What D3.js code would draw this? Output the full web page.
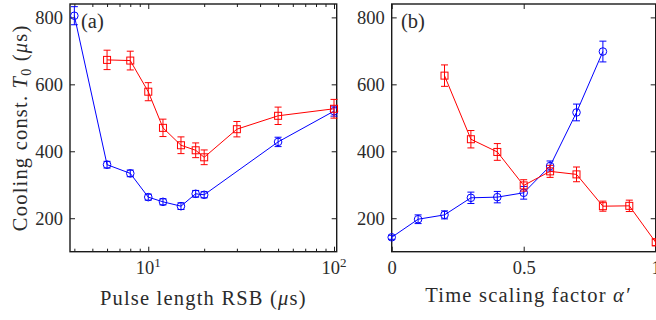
<!DOCTYPE html>
<html>
<head>
<meta charset="utf-8">
<script src="https://cdn.jsdelivr.net/npm/d3@7"></script>
<style>
  body { margin: 0; background: #fff; }
  svg { display: block; }
  .tick text { font-family: "Liberation Serif", "Times New Roman", "DejaVu Serif", serif; font-size: 18.5px; fill: #2b2b2b; }
  .domain { display: none; }
  .tick line { stroke: #1a1a1a; stroke-width: 1; }
  .lbl { font-family: "Liberation Serif", "Times New Roman", "DejaVu Serif", serif; font-size: 20.5px; fill: #2b2b2b; letter-spacing: 1.2px; }
</style>
</head>
<body>
<svg id="chart" width="656" height="320"></svg>
<script>
// panel (a): cooling constant vs pulse length RSB (log x)
const pulseBlue = [4, 6, 8, 10, 12, 15, 18, 20, 50, 100];
const coolBlue = [805, 360, 334, 263, 249, 236, 273, 270, 428, 520];
const errBlue = [27, 10, 10, 9, 9, 10, 10, 9, 14, 15];

const pulseRed = [6, 8, 10, 12, 15, 18, 20, 30, 50, 100];
const coolRed = [673, 671, 578, 470, 418, 403, 382, 466, 506, 527];
const errRed = [29, 28, 27, 26, 25, 22, 22, 23, 26, 28];

// panel (b): cooling constant vs time scaling factor
const alphaBlue = [0, 0.1, 0.2, 0.3, 0.4, 0.5, 0.6, 0.7, 0.8];
const coolBlueB = [143, 197, 210, 261, 263, 276, 356, 516, 698];
const errBlueB = [6, 13, 12, 17, 17, 19, 15, 25, 31];

const alphaRed = [0.2, 0.3, 0.4, 0.5, 0.6, 0.7, 0.8, 0.9, 1.0];
const coolRedB = [626, 436, 398, 298, 340, 331, 236, 237, 128];
const errRedB = [32, 26, 25, 17, 18, 22, 15, 17, 10];

const yTicks = [200, 400, 600, 800];
const logMajor = [10, 100];
const alphaTicks = [0, 0.5, 1];

const BLUE = '#0000ff', RED = '#ff0000';
const yTop = 4, yBottom = 251.7;
const svg = d3.select('#chart');

const y = d3.scaleLinear().domain([100, 840]).range([yBottom, yTop]);

const xa = d3.scaleLog().domain([3.79, 103.4]).range([70, 336.7]);
const xb = d3.scaleLinear().domain([0, 1]).range([391.7, 655.7]);

function frame(x, majors, minors, fmt) {
    const [x0, x1] = x.range();
    const g = svg.append('g');

    // ticks on all four sides, pointing in
    g.append('g').attr('transform', `translate(${x0},0)`)
        .call(d3.axisLeft(y).tickValues(yTicks).tickSize(-5).tickPadding(7));
    g.append('g').attr('transform', `translate(${x1},0)`)
        .call(d3.axisRight(y).tickValues(yTicks).tickSize(-5).tickFormat(''));
    g.append('g').attr('transform', `translate(0,${yBottom})`)
        .call(d3.axisBottom(x).tickValues(majors).tickSize(-5).tickPadding(9).tickFormat(fmt));
    g.append('g').attr('transform', `translate(0,${yTop})`)
        .call(d3.axisTop(x).tickValues(majors).tickSize(-5).tickFormat(''));
    if (minors) {
        g.append('g').attr('transform', `translate(0,${yBottom})`)
            .call(d3.axisBottom(x).tickValues(minors).tickSize(-3).tickFormat(''));
        g.append('g').attr('transform', `translate(0,${yTop})`)
            .call(d3.axisTop(x).tickValues(minors).tickSize(-3).tickFormat(''));
    }

    g.append('rect')
        .attr('x', x0).attr('y', yTop)
        .attr('width', x1 - x0).attr('height', yBottom - yTop)
        .attr('fill', 'none').attr('stroke', '#1a1a1a').attr('stroke-width', 1.4);
    return g;
}

function series(x, xs, ys, es, color, marker) {
    const g = svg.append('g');
    const pts = xs.map((v, i) => ({x: v, y: ys[i], e: es[i]}));

    g.append('path')
        .attr('d', d3.line().x(d => x(d.x)).y(d => y(d.y))(pts))
        .attr('fill', 'none').attr('stroke', color).attr('stroke-width', 1);

    const eb = g.selectAll('.eb').data(pts).enter().append('g').attr('stroke', color).attr('stroke-width', 1);
    eb.append('line')
        .attr('x1', d => x(d.x)).attr('x2', d => x(d.x))
        .attr('y1', d => y(d.y - d.e)).attr('y2', d => y(d.y + d.e));
    eb.append('line')
        .attr('x1', d => x(d.x) - 3.5).attr('x2', d => x(d.x) + 3.5)
        .attr('y1', d => y(d.y - d.e)).attr('y2', d => y(d.y - d.e));
    eb.append('line')
        .attr('x1', d => x(d.x) - 3.5).attr('x2', d => x(d.x) + 3.5)
        .attr('y1', d => y(d.y + d.e)).attr('y2', d => y(d.y + d.e));

    if (marker === 'circle') {
        g.selectAll('circle').data(pts).enter().append('circle')
            .attr('cx', d => x(d.x)).attr('cy', d => y(d.y)).attr('r', 3.8)
            .attr('fill', 'none').attr('stroke', color).attr('stroke-width', 1);
    } else {
        g.selectAll('rect').data(pts).enter().append('rect')
            .attr('x', d => x(d.x) - 3.5).attr('y', d => y(d.y) - 3.5)
            .attr('width', 7).attr('height', 7)
            .attr('fill', 'none').attr('stroke', color).attr('stroke-width', 1);
    }
}

// panel (a)
const minorA = xa.ticks().filter(v => logMajor.indexOf(v) < 0);
frame(xa, logMajor, minorA, () => '');
// power-of-ten labels
svg.selectAll('.pow').data(logMajor).enter().append('text')
    .attr('class', 'lbl').style('letter-spacing', '0px').style('font-size', '18.5px')
    .attr('x', d => xa(d)).attr('y', yBottom + 22)
    .attr('text-anchor', 'middle')
    .each(function (d) {
        const t = d3.select(this);
        t.append('tspan').text('10');
        t.append('tspan').attr('dy', -7).style('font-size', '13px').text(Math.round(Math.log10(d)));
    });

series(xa, pulseBlue, coolBlue, errBlue, BLUE, 'circle');
series(xa, pulseRed, coolRed, errRed, RED, 'square');

// panel (b)
frame(xb, alphaTicks, null, d => d === 0.5 ? '0.5' : d3.format('d')(d));
series(xb, alphaBlue, coolBlueB, errBlueB, BLUE, 'circle');
series(xb, alphaRed, coolRedB, errRedB, RED, 'square');

// panel tags
svg.append('text').attr('class', 'lbl').style('letter-spacing', '0px')
    .attr('x', 81).attr('y', 28).text('(a)');
svg.append('text').attr('class', 'lbl').style('letter-spacing', '0px')
    .attr('x', 401).attr('y', 28).text('(b)');

// axis titles
const xl = svg.append('text').attr('class', 'lbl').attr('text-anchor', 'middle')
    .attr('x', (xa.range()[0] + xa.range()[1]) / 2).attr('y', 305);
xl.append('tspan').text('Pulse length RSB (');
xl.append('tspan').style('font-style', 'italic').text('μ');
xl.append('tspan').text('s)');

const xl2 = svg.append('text').attr('class', 'lbl').attr('text-anchor', 'middle')
    .attr('x', 528).attr('y', 302);
xl2.append('tspan').text('Time scaling factor ');
xl2.append('tspan').style('font-style', 'italic').text('α′');

const yl = svg.append('text').attr('class', 'lbl').attr('text-anchor', 'middle')
    .attr('transform', `translate(27,${(yTop + yBottom) / 2}) rotate(-90)`);
yl.append('tspan').text('Cooling const. ');
yl.append('tspan').style('font-style', 'italic').text('T');
yl.append('tspan').attr('dy', 4).style('font-size', '14px').text('0');
yl.append('tspan').attr('dy', -4).text(' (');
yl.append('tspan').style('font-style', 'italic').text('μ');
yl.append('tspan').text('s)');
</script>
</body>
</html>
